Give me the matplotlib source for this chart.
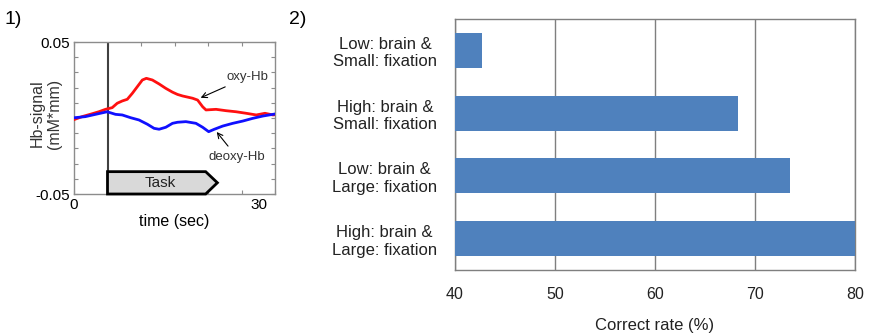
import matplotlib
matplotlib.use('Agg')
import matplotlib.pyplot as plt
import matplotlib.transforms as mtransforms
from matplotlib.patches import Polygon
import numpy as np

plt.rcParams['font.family'] = ['Liberation Sans', 'DejaVu Sans']
plt.rcParams['axes.unicode_minus'] = False

# Panel 1: Hb signal time course
t_oxy = [0.1, 1.2, 2.4, 3.7, 4.7, 5.7, 6.45, 7.2, 7.95, 8.7, 9.45, 10.2, 10.8,
         11.7, 12.7, 13.7, 14.7, 15.45, 16.2, 17.7, 18.45, 19.2, 19.7, 21.2,
         22.7, 24.2, 25.7, 27.2, 28.5, 29.7, 30.0]
oxy = [-0.0009, 0.0009, 0.0024, 0.0041, 0.0057, 0.0068, 0.0097, 0.0112, 0.0123,
       0.0162, 0.0206, 0.0250, 0.0261, 0.0250, 0.0224, 0.0195, 0.0170, 0.0155,
       0.0145, 0.0130, 0.0118, 0.0074, 0.0053, 0.0057, 0.0048, 0.0041, 0.0031,
       0.0020, 0.0031, 0.0020, 0.0022]

t_deoxy = [0.1, 1.7, 3.2, 4.95, 6.2, 7.2, 8.45, 9.7, 10.95, 11.95, 12.7, 13.7,
           14.7, 15.45, 16.7, 18.2, 19.2, 20.1, 20.95, 22.2, 23.7, 25.2, 26.7,
           28.2, 29.95]
deoxy = [0.0002, 0.0009, 0.0024, 0.0041, 0.0024, 0.0020, 0.0002, -0.0013,
         -0.0041, -0.0068, -0.0074, -0.0061, -0.0035, -0.0028, -0.0024, -0.0035,
         -0.0061, -0.0090, -0.0074, -0.0053, -0.0035, -0.0020, -0.0002, 0.0013,
         0.0026]

task_start = 5
task_end = 19.65

# Panel 2: correct rate per condition
conditions = ['Low: brain &\nSmall: fixation', 'High: brain &\nSmall: fixation',
              'Low: brain &\nLarge: fixation', 'High: brain &\nLarge: fixation']
correct_rate = [42.7, 68.3, 73.5, 80.0]

W, H = 869, 335
fig = plt.figure(figsize=(W / 100, H / 100), dpi=100)

# ---- panel 1 ----
ax1 = fig.add_axes([74 / W, 1 - 194 / H, 201 / W, 152 / H])
frame_gray = '#8c8c8c'
for s in ax1.spines.values():
    s.set_color(frame_gray)
    s.set_linewidth(1.0)

ax1.plot(t_oxy, oxy, color='#ff1010', lw=2.0, zorder=3)
ax1.plot(t_deoxy, deoxy, color='#1010ff', lw=2.0, zorder=3)
ax1.axvline(task_start, color='#404040', lw=1.5, zorder=2)

ax1.set_xlim(0, 30)
ax1.set_ylim(-0.05, 0.05)
xt = np.arange(0, 31, 5)
ax1.set_xticks(xt)
ax1.set_xticklabels(['0', '', '', '', '', '', '30'])
yt = np.round(np.arange(-0.05, 0.0501, 0.01), 2)
ax1.set_yticks(yt)
ax1.set_yticklabels(['-0.05'] + [''] * 9 + ['0.05'])
ax1.tick_params(direction='in', length=3, color=frame_gray, top=True, right=True,
                labelsize=11, pad=3)
# the "30" label sits a little left of the axis end in the original
shift = mtransforms.ScaledTranslation(-16 / 100, 0, fig.dpi_scale_trans)
lab30 = ax1.get_xticklabels()[-1]
lab30.set_transform(lab30.get_transform() + shift)

ax1.set_xlabel('time (sec)', fontsize=11.5, labelpad=1)
ax1.set_ylabel('Hb-signal\n(mM*mm)', fontsize=11.5, color='#333333')
ax1.yaxis.set_label_coords(-0.058, 0.53)

arrow = dict(arrowstyle='->', color='black', lw=0.8, shrinkA=2, shrinkB=0)
ax1.annotate('oxy-Hb', xy=(18.9, 0.0133), xytext=(25.9, 0.027), fontsize=9.5,
             ha='center', va='center', arrowprops=arrow, color='#333333')
ax1.annotate('deoxy-Hb', xy=(21.3, -0.0092), xytext=(24.3, -0.0257), fontsize=9.5,
             ha='center', va='center', arrowprops=arrow, color='#333333')

task = Polygon([(task_start, -0.05), (task_start, -0.0353), (task_end, -0.0353),
                (21.4, -0.0426), (task_end, -0.05)], closed=True,
               facecolor='#d9d9d9', edgecolor='black', lw=2, clip_on=False, zorder=4)
ax1.add_patch(task)
ax1.text(12.9, -0.0426, 'Task', fontsize=11, ha='center', va='center', zorder=5,
         color='#222222')

# ---- panel 2 ----
ax2 = fig.add_axes([455 / W, 1 - 270 / H, 400 / W, 251 / H])
y = np.arange(len(conditions))
ax2.barh(y, correct_rate, height=0.56, color='#4f81bd', zorder=3)
ax2.set_xlim(40, 80)
ax2.set_ylim(3.5, -0.5)
ax2.set_xticks([40, 50, 60, 70, 80])
ax2.set_yticks(y)
ax2.set_yticklabels(conditions, multialignment='center')
ax2.tick_params(axis='both', length=0, labelsize=12, labelcolor='#222222')
ax2.tick_params(axis='x', pad=12, labelsize=11.5)
ax2.tick_params(axis='y', pad=13)
ax2.grid(True, axis='x', color='#7f7f7f', lw=1.0, zorder=0)
for s in ax2.spines.values():
    s.set_color('#7f7f7f')
    s.set_linewidth(1.0)
ax2.set_xlabel('Correct rate (%)', fontsize=12, labelpad=12, color='#222222')

fig.text(4 / W, 1 - 20 / H, '1)', fontsize=14, va='center', ha='left')
fig.text(289 / W, 1 - 20 / H, '2)', fontsize=14, va='center', ha='left')

fig.savefig('out.png', dpi=100)
